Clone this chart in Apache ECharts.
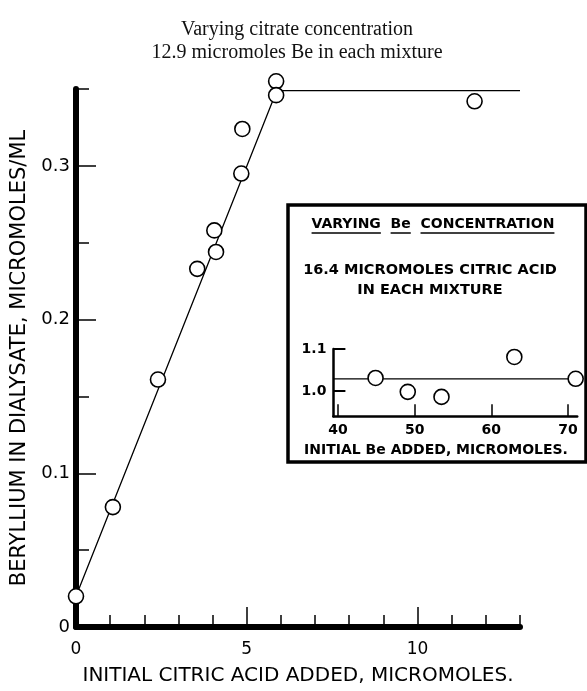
<!DOCTYPE html>
<html><head><meta charset="utf-8">
<script src="https://cdn.jsdelivr.net/npm/echarts@6/dist/echarts.min.js"></script>
<style>html,body{margin:0;padding:0;background:#fff}#c{width:587px;height:691px}</style>
</head><body><div id="c"></div>
<script>
// Main chart data
const citrateAdded = [0, 1.08, 2.4, 3.55, 4.05, 4.1, 4.84, 4.87, 5.86, 5.86, 11.67];
const berylliumDialysate = [0.02, 0.078, 0.161, 0.233, 0.258, 0.244, 0.295, 0.324, 0.355, 0.346, 0.342];
const fitCitrate = [0, 5.88, 13];
const fitBeryllium = [0.02, 0.349, 0.349];
const xLabelValues = [0, 5, 10];
const xMinorTicks = [1, 2, 3, 4, 6, 7, 8, 9, 11, 12, 13];
const xMajorTicks = [5, 10];
const yLabelValues = [0, 0.1, 0.2, 0.3];
const yMajorTicks = [0.1, 0.2, 0.3];
const yMinorTicks = [0.05, 0.15, 0.25, 0.35];
// Inset data
const insetBeAdded = [44.9, 49.1, 53.5, 63.0, 71.0];
const insetValue = [1.031, 0.998, 0.986, 1.081, 1.029];
const insetFitX = [39.4, 71.0];
const insetFitY = [1.029, 1.029];
const insetXTicks = [40, 50, 60, 70];
const insetYTicks = [1.0, 1.1];

const zip = (a, b) => a.map((v, i) => [v, b[i]]);
const FONT = 'DejaVu Sans';
const black = '#000';

const chart = echarts.init(document.getElementById('c'), null, {renderer: 'canvas'});

// measure for underlines of the inset heading
const mctx = document.createElement('canvas').getContext('2d');
const hdrFont = 'bold 14px "' + FONT + '"';
mctx.font = hdrFont;
const hdrWords = ['VARYING', 'Be', 'CONCENTRATION'];
const gap = mctx.measureText('  ').width;
const wWidths = hdrWords.map(w => mctx.measureText(w).width);
const totalW = wWidths.reduce((a, b) => a + b, 0) + gap * 2;
const hdrCx = 433, hdrY = 224;
let cur = hdrCx - totalW / 2;
const underlineEls = [];
wWidths.forEach(w => {
  underlineEls.push({type: 'line', shape: {x1: cur, y1: hdrY + 9, x2: cur + w, y2: hdrY + 9}, style: {stroke: black, lineWidth: 1.5}});
  cur += w + gap;
});

chart.setOption({
  animation: false,
  backgroundColor: '#fff',
  title: {
    text: 'Varying citrate concentration\n12.9 micromoles Be in each mixture',
    left: 292, top: 13, textAlign: 'center',
    textStyle: {fontFamily: 'Liberation Serif', fontSize: 20, fontWeight: 'normal', color: '#111', lineHeight: 23}
  },
  grid: [
    {left: 76, top: 89, width: 444, height: 546},
    {left: 333.4, top: 349, width: 243.8, height: 67.2}
  ],
  xAxis: [
    {gridIndex: 0, type: 'value', min: 0, max: 13, position: 'bottom',
     axisLine: {onZero: false, lineStyle: {color: black, width: 6}},
     axisTick: {inside: true, length: 12, customValues: xMinorTicks, lineStyle: {color: black, width: 1.5}},
     axisLabel: {customValues: xLabelValues, color: black, fontFamily: FONT, fontSize: 17, margin: 14},
     splitLine: {show: false},
     name: 'INITIAL CITRIC ACID ADDED, MICROMOLES.', nameLocation: 'middle', nameGap: 39,
     nameTextStyle: {color: black, fontFamily: FONT, fontSize: 20}},
    {gridIndex: 0, type: 'value', min: 0, max: 13, position: 'bottom',
     axisLine: {show: false},
     axisTick: {inside: true, length: 20, customValues: xMajorTicks, lineStyle: {color: black, width: 1.5}},
     axisLabel: {show: false}, splitLine: {show: false}},
    {gridIndex: 1, type: 'value', min: 39.4, max: 71.2, position: 'bottom',
     axisLine: {onZero: false, lineStyle: {color: black, width: 2.5}},
     axisTick: {inside: true, length: 12, customValues: insetXTicks, lineStyle: {color: black, width: 1.5}},
     axisLabel: {customValues: insetXTicks, color: black, fontFamily: FONT, fontSize: 14, fontWeight: 'bold', margin: 7},
     splitLine: {show: false}}
  ],
  yAxis: [
    {gridIndex: 0, type: 'value', min: 0, max: 0.35, position: 'left',
     axisLine: {onZero: false, lineStyle: {color: black, width: 6}},
     axisTick: {inside: true, length: 20, customValues: yMajorTicks, lineStyle: {color: black, width: 1.5}},
     axisLabel: {customValues: yLabelValues, color: black, fontFamily: FONT, fontSize: 18, margin: 6,
                 formatter: v => v === 0 ? '0' : v.toFixed(1)},
     splitLine: {show: false},
     name: 'BERYLLIUM IN DIALYSATE, MICROMOLES/ML', nameLocation: 'middle', nameGap: 46,
     nameTextStyle: {color: black, fontFamily: FONT, fontSize: 21}},
    {gridIndex: 0, type: 'value', min: 0, max: 0.35, position: 'left',
     axisLine: {show: false},
     axisTick: {inside: true, length: 13, customValues: yMinorTicks, lineStyle: {color: black, width: 1.5}},
     axisLabel: {show: false}, splitLine: {show: false}},
    {gridIndex: 1, type: 'value', min: 0.94, max: 1.1, position: 'left',
     axisLine: {onZero: false, lineStyle: {color: black, width: 2.5}},
     axisTick: {inside: true, length: 12, customValues: insetYTicks, lineStyle: {color: black, width: 2}},
     axisLabel: {customValues: insetYTicks, color: black, fontFamily: FONT, fontSize: 14, fontWeight: 'bold', margin: 7,
                 formatter: v => v.toFixed(1)},
     splitLine: {show: false}}
  ],
  series: [
    {type: 'line', xAxisIndex: 0, yAxisIndex: 0, data: zip(fitCitrate, fitBeryllium), showSymbol: false,
     lineStyle: {color: black, width: 1.3}, z: 2},
    {type: 'scatter', xAxisIndex: 0, yAxisIndex: 0, data: zip(citrateAdded, berylliumDialysate), symbol: 'circle', symbolSize: 15,
     clip: false,
     itemStyle: {color: '#fff', borderColor: black, borderWidth: 1.6, opacity: 1}, z: 3},
    {type: 'line', xAxisIndex: 2, yAxisIndex: 2, data: zip(insetFitX, insetFitY), showSymbol: false,
     lineStyle: {color: black, width: 1.3}, z: 2},
    {type: 'scatter', xAxisIndex: 2, yAxisIndex: 2, data: zip(insetBeAdded, insetValue), symbol: 'circle', symbolSize: 15,
     clip: false,
     itemStyle: {color: '#fff', borderColor: black, borderWidth: 1.6, opacity: 1}, z: 3}
  ],
  graphic: [
    {type: 'rect', shape: {x: 288, y: 205, width: 298, height: 257}, style: {fill: 'none', stroke: black, lineWidth: 3.5}, z: 1},
    {type: 'text', x: hdrCx, y: hdrY, style: {text: hdrWords.join('  '), font: hdrFont, fill: black, textAlign: 'center', textVerticalAlign: 'middle'}},
    ...underlineEls,
    {type: 'text', x: 430, y: 270, style: {text: '16.4 MICROMOLES CITRIC ACID', font: 'bold 14.5px "' + FONT + '"', fill: black, textAlign: 'center', textVerticalAlign: 'middle'}},
    {type: 'text', x: 430, y: 290, style: {text: 'IN EACH MIXTURE', font: 'bold 14.5px "' + FONT + '"', fill: black, textAlign: 'center', textVerticalAlign: 'middle'}},
    {type: 'text', x: 436, y: 450, style: {text: 'INITIAL Be ADDED, MICROMOLES.', font: 'bold 14px "' + FONT + '"', fill: black, textAlign: 'center', textVerticalAlign: 'middle'}}
  ]
});
</script></body></html>
